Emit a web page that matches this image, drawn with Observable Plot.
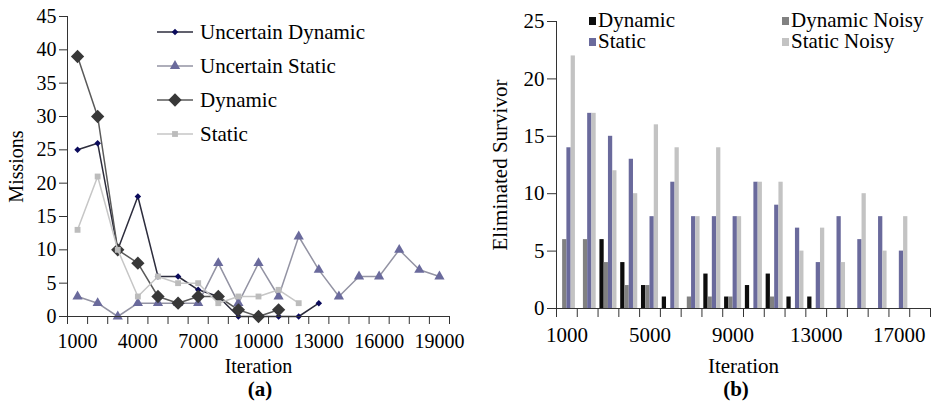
<!DOCTYPE html>
<html>
<head>
<meta charset="utf-8">
<script src="https://cdn.jsdelivr.net/npm/d3@7"></script>
<script src="https://cdn.jsdelivr.net/npm/@observablehq/plot@0.6"></script>
<style>
  html, body { margin: 0; padding: 0; background: #fff; }
  #wrap { position: relative; width: 932px; height: 405px; background: #fff; font-family: "Liberation Serif", "DejaVu Serif", serif; color: #000; overflow: hidden; }
  #chartA, #chartB { position: absolute; top: 0; }
  #chartA { left: 0; }
  #chartB { left: 466px; }
  .legendA { position: absolute; left: 157px; top: 15px; font-size: 21px; }
  .legendA .row { display: flex; align-items: center; height: 34px; white-space: nowrap; }
  .legendA svg { display: block; margin-right: 7px; }
  .legendB { position: absolute; top: 10px; font-size: 21px; line-height: 21px; }
  .legendB .row { display: flex; align-items: center; height: 21px; white-space: nowrap; }
  .legendB .sw { width: 7px; height: 8px; margin-right: 2px; }
  .caption { position: absolute; top: 379px; font-size: 21px; line-height: 21px; font-weight: bold; transform: translateX(-50%); }
</style>
</head>
<body>
<div id="wrap">
  <div id="chartA"></div>
  <div id="chartB"></div>
  <div class="legendA" id="legendA"></div>
  <div class="legendB" id="legendB1" style="left:589px"></div>
  <div class="legendB" id="legendB2" style="left:782px"></div>
  <div class="caption" style="left:260px">(a)</div>
  <div class="caption" style="left:736px">(b)</div>
</div>
<script>
// ---- Panel (a): missions per iteration ----
const iterA = [1000, 2000, 3000, 4000, 5000, 6000, 7000, 8000, 9000, 10000,
               11000, 12000, 13000, 14000, 15000, 16000, 17000, 18000, 19000];
const uncertainDynamic = [25, 26, 10, 18, 6, 6, 4, 3, 0, 0, 0, 0, 2, null, null, null, null, null, null];
const uncertainStatic  = [3, 2, 0, 2, 2, 2, 2, 8, 2, 8, 3, 12, 7, 3, 6, 6, 10, 7, 6];
const dynamicA         = [39, 30, 10, 8, 3, 2, 3, 3, 1, 0, 1, null, null, null, null, null, null, null, null];
const staticA          = [13, 21, 10, 3, 6, 5, 5, 2, 3, 3, 4, 2, null, null, null, null, null, null, null];
const missionTicks = [0, 5, 10, 15, 20, 25, 30, 35, 40, 45];
const iterLabelsA = [1000, 4000, 7000, 10000, 13000, 16000, 19000];

// ---- Panel (b): eliminated survivors per iteration ----
const iterB = [1000, 2000, 3000, 4000, 5000, 6000, 7000, 8000, 9000,
               10000, 11000, 12000, 13000, 14000, 15000, 16000, 17000, 18000];
const dynamicB      = [0, 0, 6, 4, 2, 1, 0, 3, 1, 2, 3, 1, 1, 0, 0, 0, 0, 0];
const dynamicNoisyB = [6, 6, 4, 2, 2, 0, 1, 1, 1, 0, 1, 0, 0, 0, 0, 0, 0, 0];
const staticB       = [14, 17, 15, 13, 8, 11, 8, 8, 8, 11, 9, 7, 4, 8, 6, 8, 5, 0];
const staticNoisyB  = [22, 17, 12, 10, 16, 14, 8, 14, 8, 11, 11, 5, 7, 4, 10, 5, 8, 0];
const survivorTicks = [0, 5, 10, 15, 20, 25];
const iterLabelsB = [1000, 5000, 9000, 13000, 17000];

// rotated-square marker (Excel style diamond)
const squareDiamond = {
  draw(ctx, size) {
    const h = Math.sqrt(size / 2);
    ctx.moveTo(0, -h); ctx.lineTo(h, 0); ctx.lineTo(0, h); ctx.lineTo(-h, 0); ctx.closePath();
  }
};

const seriesA = [
  {name: "Uncertain Dynamic", values: uncertainDynamic, line: "#2d2d3d", fill: "#0b0b5c", symbol: squareDiamond, r: 2.6},
  {name: "Uncertain Static",  values: uncertainStatic,  line: "#9393a3", fill: "#6a6a9c", symbol: d3.symbolTriangle, r: 3.8},
  {name: "Dynamic",           values: dynamicA,         line: "#5a5a5a", fill: "#383838", symbol: squareDiamond, r: 5.3},
  {name: "Static",            values: staticA,          line: "#c6c6c6", fill: "#bcbcbc", symbol: d3.symbolSquare, r: 3.3}
];

const edges = (iters) => {
  const step = iters[1] - iters[0];
  return [...iters.map(v => v - step / 2), iters[iters.length - 1] + step / 2];
};
const edgesA = edges(iterA);
const fmt = d => String(d);

const marksA = [];
for (const s of seriesA) {
  const rows = iterA.map((it, i) => ({iter: it, value: s.values[i]}));
  marksA.push(Plot.line(rows, {x: "iter", y: "value", stroke: s.line, strokeWidth: 1.5}));
  marksA.push(Plot.dot(rows.filter(d => d.value != null),
    {x: "iter", y: "value", symbol: s.symbol, r: s.r, fill: s.fill, stroke: "none"}));
}

const chartA = Plot.plot({
  width: 466, height: 382,
  marginLeft: 67, marginRight: 17, marginTop: 16, marginBottom: 66,
  style: {fontFamily: "Liberation Serif", background: "#fff", color: "#000"},
  x: {domain: [edgesA[0], edgesA[edgesA.length - 1]]},
  y: {domain: [0, 45]},
  marks: [
    ...marksA,
    Plot.frame({anchor: "left", stroke: "#333"}),
    Plot.ruleY([0], {stroke: "#333"}),
    Plot.axisY({ticks: missionTicks, tickSize: 8, tickPadding: 3, fontSize: 20, stroke: "#333",
      tickFormat: fmt, label: "Missions", labelAnchor: "center", labelArrow: "none", labelOffset: 59}),
    Plot.axisX({ticks: edgesA, tickSize: 8, tickFormat: () => "", stroke: "#333", label: null}),
    Plot.axisX({ticks: iterLabelsA, tickSize: 0, tickPadding: 17, fontSize: 20,
      tickFormat: fmt, label: "Iteration", labelAnchor: "center", labelArrow: "none", labelOffset: 56})
  ]
});
document.getElementById("chartA").append(chartA);

// legend (a)
const legA = document.getElementById("legendA");
for (const s of seriesA) {
  const row = document.createElement("div");
  row.className = "row";
  const path = d3.symbol().type(s.symbol).size(Math.PI * s.r * s.r)();
  row.innerHTML = `<svg width="36" height="20"><line x1="0" x2="36" y1="10" y2="10" stroke="${s.line}" stroke-width="1.5"/>` +
    `<path d="${path}" transform="translate(18,10)" fill="${s.fill}"/></svg><span>${s.name}</span>`;
  legA.append(row);
}

// ---- Panel (b) ----
const seriesB = [
  {name: "Dynamic",       values: dynamicB,      fill: "#0d0d0d"},
  {name: "Dynamic Noisy", values: dynamicNoisyB, fill: "#818181"},
  {name: "Static",        values: staticB,       fill: "#6a6a9c"},
  {name: "Static Noisy",  values: staticNoisyB,  fill: "#c3c3c3"}
];
const edgesB = edges(iterB);
const stepB = iterB[1] - iterB[0];
const groupFrac = 0.82;
const barW = stepB * groupFrac / seriesB.length;
const bars = [];
seriesB.forEach((s, k) => iterB.forEach((it, i) => bars.push({
  iter: it, k, series: s.name, value: s.values[i], fill: s.fill
})));

const chartB = Plot.plot({
  width: 466, height: 382,
  marginLeft: 90, marginRight: 2, marginTop: 21, marginBottom: 74,
  style: {fontFamily: "Liberation Serif", background: "#fff", color: "#000"},
  x: {domain: [edgesB[0], edgesB[edgesB.length - 1]]},
  y: {domain: [0, 25]},
  marks: [
    Plot.rect(bars.filter(d => d.value > 0), {
      x1: d => d.iter - stepB * groupFrac / 2 + d.k * barW,
      x2: d => d.iter - stepB * groupFrac / 2 + (d.k + 1) * barW,
      y1: 0, y2: "value", fill: d => d.fill
    }),
    Plot.frame({anchor: "left", stroke: "#333"}),
    Plot.ruleY([0], {stroke: "#333"}),
    Plot.axisY({ticks: survivorTicks, tickSize: 9, tickPadding: 3, fontSize: 21, stroke: "#333",
      tickFormat: fmt, label: "Eliminated Survivor", labelAnchor: "center", labelArrow: "none", labelOffset: 64}),
    Plot.axisX({ticks: edgesB, tickSize: 9, tickFormat: () => "", stroke: "#333", label: null}),
    Plot.axisX({ticks: iterLabelsB, tickSize: 0, tickPadding: 19, fontSize: 21,
      tickFormat: fmt, label: "Iteration", labelAnchor: "center", labelArrow: "none", labelOffset: 64})
  ]
});
document.getElementById("chartB").append(chartB);

// legend (b): two columns — Dynamic / Static, Dynamic Noisy / Static Noisy
const legCols = [document.getElementById("legendB1"), document.getElementById("legendB2")];
[[0, 2], [1, 3]].forEach((idx, c) => idx.forEach(k => {
  const s = seriesB[k];
  const row = document.createElement("div");
  row.className = "row";
  row.innerHTML = `<div class="sw" style="background:${s.fill}"></div><span>${s.name}</span>`;
  legCols[c].append(row);
}));
</script>
</body>
</html>
